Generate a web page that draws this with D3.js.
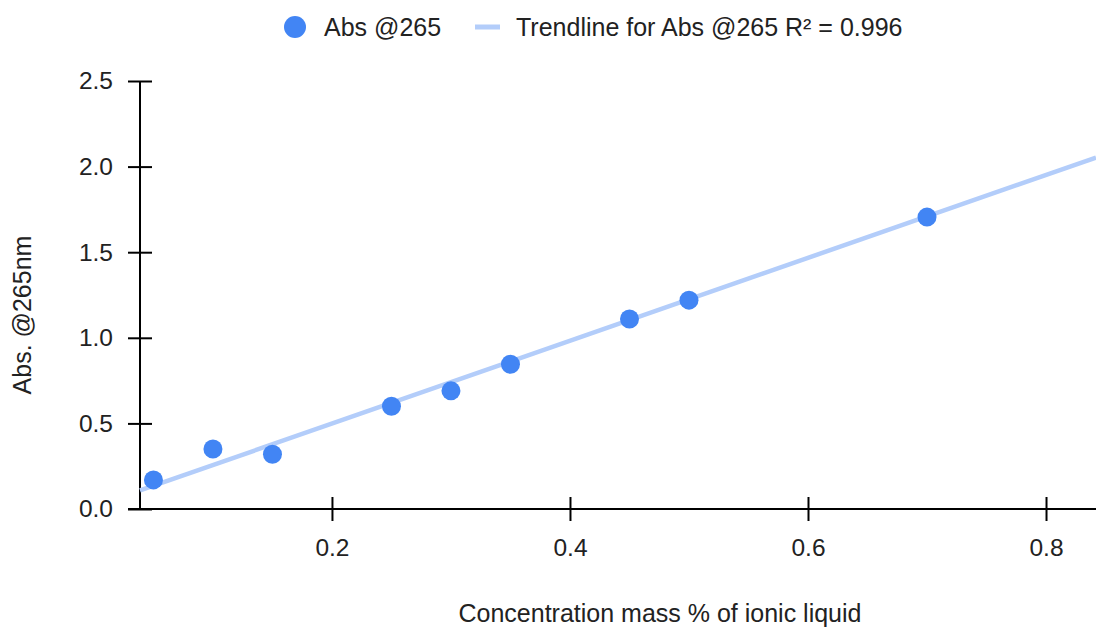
<!DOCTYPE html>
<html>
<head>
<meta charset="utf-8">
<script src="https://cdn.jsdelivr.net/npm/d3@7"></script>
<style>
  html, body { margin: 0; padding: 0; background: #fff; }
  svg { display: block; font-family: "Liberation Sans", Arial, sans-serif; }
</style>
</head>
<body>
<div id="chart"></div>
<script>
// ── Données ───────────────────────────────────────────────────────────────
const concentration = [0.05, 0.10, 0.15, 0.25, 0.30, 0.35, 0.45, 0.50, 0.70];
const absorbance    = [0.17, 0.35, 0.32, 0.60, 0.69, 0.845, 1.11, 1.22, 1.705];
const xTicks = [0.2, 0.4, 0.6, 0.8];
const yTicks = [0.0, 0.5, 1.0, 1.5, 2.0, 2.5];
// trendline (y = a + b x)
const trendIntercept = 0.015;
const trendSlope = 2.42;
const seriesName = 'Abs @265';
const trendName = 'Trendline for Abs @265 R² = 0.996';

const W = 1096, H = 629;
const M = { left: 140, right: 0, top: 81, bottom: 120 };
const FONT = 24.5, TITLE = 25;
const BLUE = '#4285f4', LIGHT = '#b3cdfa', INK = '#222';

const svg = d3.select('#chart').append('svg').attr('width', W).attr('height', H);

const x = d3.scaleLinear().domain([0.0387, 0.842]).range([M.left, W - M.right]);
const y = d3.scaleLinear().domain([0, 2.5]).range([H - M.bottom, M.top]);

// ── Axes ──────────────────────────────────────────────────────────────────
const yAxis = svg.append('g').attr('transform', `translate(${M.left},0)`)
  .call(d3.axisLeft(y).tickValues(yTicks).tickFormat(d3.format('.1f')).tickSize(12).tickPadding(15));
yAxis.select('.domain').remove();
yAxis.selectAll('.tick line').attr('x1', 12).attr('x2', -12).attr('stroke', '#000').attr('stroke-width', 2);
yAxis.selectAll('.tick text').attr('font-size', FONT).attr('fill', INK).attr('font-family', null);

const xAxis = svg.append('g').attr('transform', `translate(0,${y(0)})`)
  .call(d3.axisBottom(x).tickValues(xTicks).tickFormat(d3.format('.1f')).tickSize(12).tickPadding(18));
xAxis.select('.domain').remove();
xAxis.selectAll('.tick line').attr('y1', -12).attr('y2', 12).attr('stroke', '#000').attr('stroke-width', 2);
xAxis.selectAll('.tick text').attr('font-size', FONT).attr('fill', INK).attr('font-family', null);

// lignes d'axes
svg.append('line').attr('x1', M.left).attr('x2', M.left).attr('y1', y(2.5)).attr('y2', y(0))
  .attr('stroke', '#000').attr('stroke-width', 2);
svg.append('line').attr('x1', M.left - 12).attr('x2', W).attr('y1', y(0)).attr('y2', y(0))
  .attr('stroke', '#000').attr('stroke-width', 2);

// ── Trendline ─────────────────────────────────────────────────────────────
const [x0, x1] = x.domain();
svg.append('line')
  .attr('x1', x(x0)).attr('y1', y(trendIntercept + trendSlope * x0))
  .attr('x2', x(x1)).attr('y2', y(trendIntercept + trendSlope * x1))
  .attr('stroke', LIGHT).attr('stroke-width', 4.5);

// ── Points ────────────────────────────────────────────────────────────────
svg.selectAll('.pt').data(concentration.map((c, i) => [c, absorbance[i]])).enter()
  .append('circle').attr('class', 'pt')
  .attr('cx', d => x(d[0])).attr('cy', d => y(d[1])).attr('r', 9.5)
  .attr('fill', BLUE);

// ── Titres d'axes ────────────────────────────────────────────────────────
svg.append('text').attr('x', 660).attr('y', 622).attr('text-anchor', 'middle')
  .attr('font-size', TITLE).attr('fill', INK).text('Concentration mass % of ionic liquid');
svg.append('text').attr('transform', `translate(31,${315}) rotate(-90)`).attr('text-anchor', 'middle')
  .attr('font-size', TITLE).attr('fill', INK).text('Abs. @265nm');

// ── Légende ───────────────────────────────────────────────────────────────
const lg = svg.append('g');
lg.append('circle').attr('cx', 295).attr('cy', 27).attr('r', 11).attr('fill', BLUE);
lg.append('text').attr('x', 324).attr('y', 36).attr('font-size', TITLE).attr('fill', INK).text(seriesName);
lg.append('rect').attr('x', 475).attr('y', 24.5).attr('width', 25).attr('height', 5).attr('fill', LIGHT);
lg.append('text').attr('x', 516).attr('y', 36).attr('font-size', TITLE).attr('fill', INK).text(trendName);
</script>
</body>
</html>
